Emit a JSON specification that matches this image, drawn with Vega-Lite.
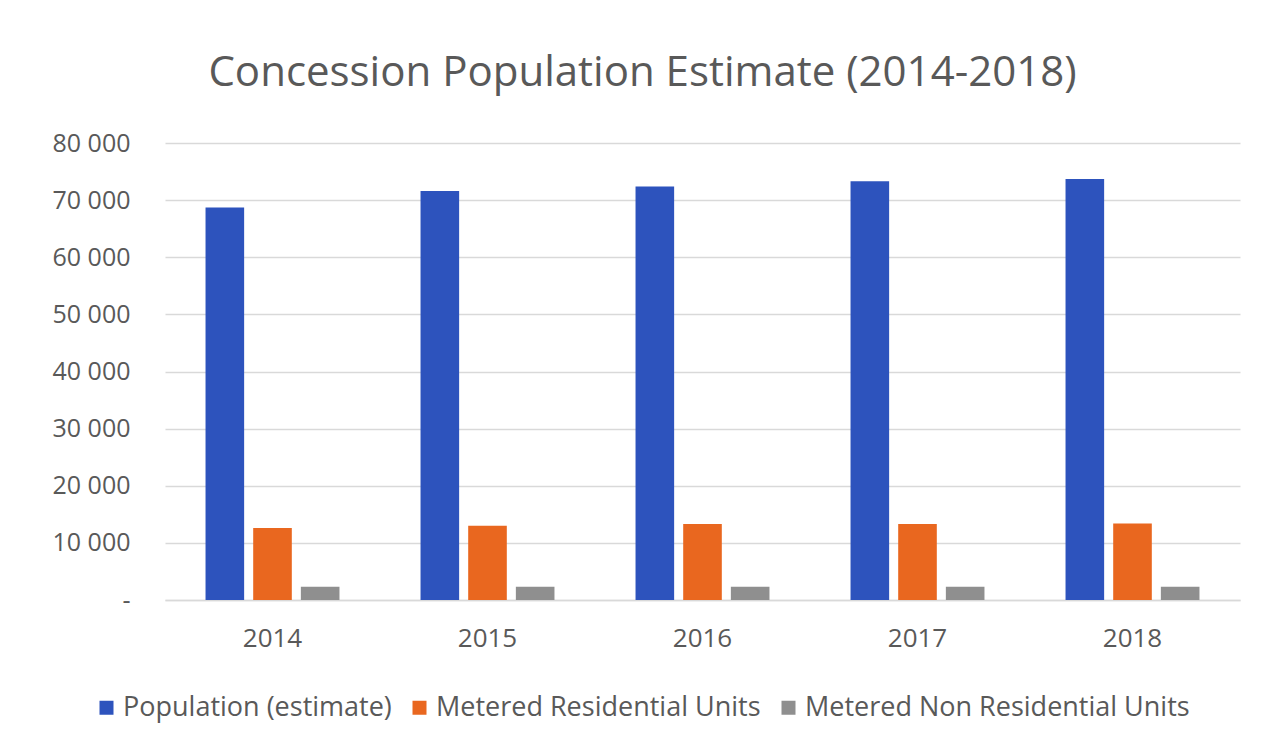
{
  "$schema": "https://vega.github.io/schema/vega-lite/v6.json",
  "width": 1075,
  "height": 457,
  "autosize": {"type": "none"},
  "padding": {"left": 165, "top": 143, "right": 34, "bottom": 155},
  "background": "#ffffff",
  "title": {
    "text": "Concession Population Estimate (2014-2018)",
    "font": "Open Sans",
    "fontSize": 42,
    "fontWeight": "normal",
    "color": "#595959",
    "anchor": "middle",
    "dx": -60,
    "offset": 36
  },
  "data": {
    "values": [
      {"year": "2014", "series": "Population (estimate)", "value": 68700},
      {"year": "2014", "series": "Metered Residential Units", "value": 12600},
      {"year": "2014", "series": "Metered Non Residential Units", "value": 2300},
      {"year": "2015", "series": "Population (estimate)", "value": 71600},
      {"year": "2015", "series": "Metered Residential Units", "value": 13000},
      {"year": "2015", "series": "Metered Non Residential Units", "value": 2300},
      {"year": "2016", "series": "Population (estimate)", "value": 72400},
      {"year": "2016", "series": "Metered Residential Units", "value": 13300},
      {"year": "2016", "series": "Metered Non Residential Units", "value": 2300},
      {"year": "2017", "series": "Population (estimate)", "value": 73300},
      {"year": "2017", "series": "Metered Residential Units", "value": 13300},
      {"year": "2017", "series": "Metered Non Residential Units", "value": 2300},
      {"year": "2018", "series": "Population (estimate)", "value": 73700},
      {"year": "2018", "series": "Metered Residential Units", "value": 13400},
      {"year": "2018", "series": "Metered Non Residential Units", "value": 2300}
    ]
  },
  "mark": {"type": "bar"},
  "encoding": {
    "x": {
      "field": "year",
      "type": "nominal",
      "scale": {"paddingInner": 0.377, "paddingOuter": 0.1885},
      "axis": {
        "title": null,
        "labelAngle": 0,
        "labelFont": "Open Sans",
        "labelFontSize": 26,
        "labelColor": "#595959",
        "labelPadding": 25,
        "ticks": false,
        "domainColor": "#d9d9d9",
        "domainWidth": 1.5
      }
    },
    "xOffset": {
      "field": "series",
      "type": "nominal",
      "sort": ["Population (estimate)", "Metered Residential Units", "Metered Non Residential Units"],
      "scale": {"paddingInner": 0.19, "paddingOuter": 0}
    },
    "y": {
      "field": "value",
      "type": "quantitative",
      "scale": {"domain": [0, 80000]},
      "axis": {
        "title": null,
        "values": [0, 10000, 20000, 30000, 40000, 50000, 60000, 70000, 80000],
        "labelOverlap": false,
        "labelExpr": "datum.value == 0 ? '-' : replace(format(datum.value, ','), ',', ' ')",
        "labelFont": "Open Sans",
        "labelFontSize": 25,
        "labelColor": "#595959",
        "labelPadding": 35,
        "ticks": false,
        "domain": false,
        "gridColor": "#d9d9d9",
        "gridWidth": 1.5
      }
    },
    "color": {
      "field": "series",
      "type": "nominal",
      "scale": {
        "domain": ["Population (estimate)", "Metered Residential Units", "Metered Non Residential Units"],
        "range": ["#2d53bd", "#e9671f", "#8f8f8f"]
      },
      "legend": {
        "title": null,
        "orient": "none",
        "legendX": -72,
        "legendY": 551,
        "direction": "horizontal",
        "symbolType": "square",
        "symbolSize": 196,
        "symbolStrokeWidth": 0,
        "labelFont": "Open Sans",
        "labelFontSize": 27,
        "labelColor": "#595959",
        "labelLimit": 600,
        "columnPadding": 14,
        "labelOffset": 3
      }
    }
  },
  "config": {
    "view": {"stroke": null}
  }
}
